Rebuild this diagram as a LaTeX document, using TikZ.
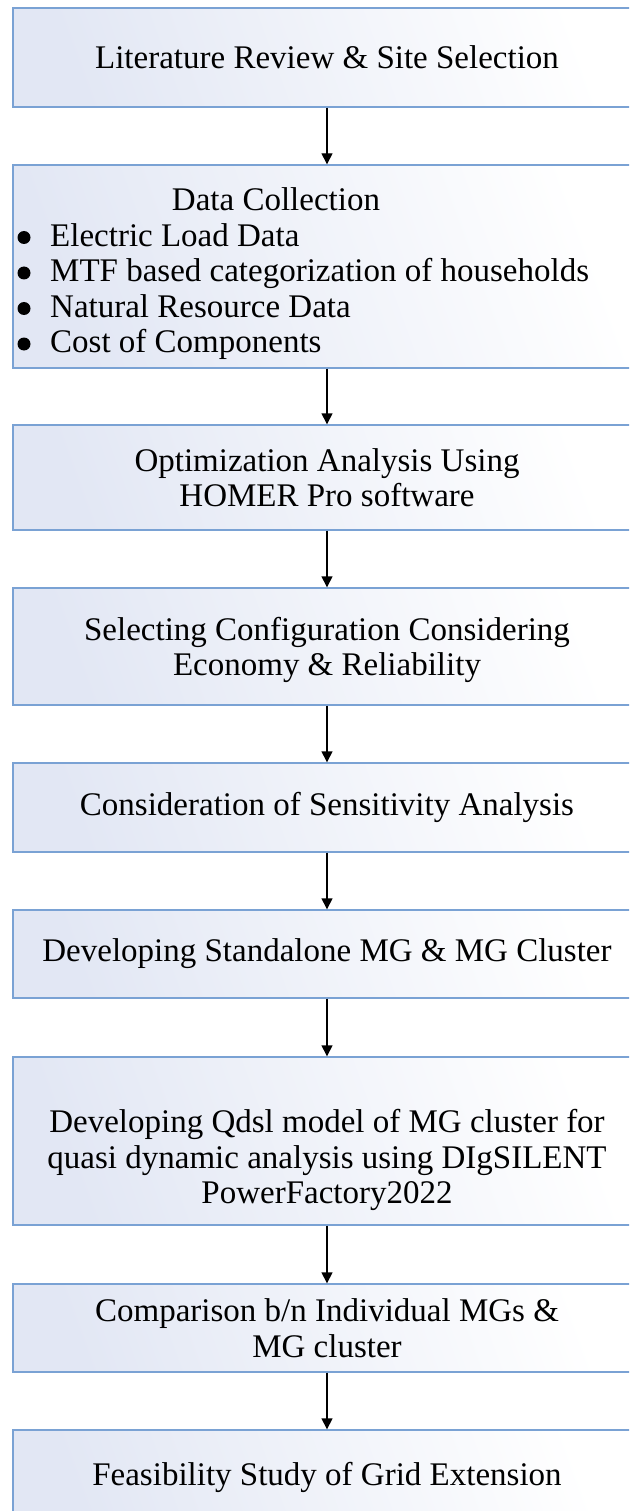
\documentclass[tikz,border=0pt]{standalone}
\usepackage{fontspec}
\setmainfont{Liberation Serif}
\usetikzlibrary{arrows.meta}
\definecolor{boxline}{RGB}{122,162,212}
\definecolor{boxfill}{RGB}{226,231,244}
\newcommand{\bulspace}{\hspace*{34pt}}
\begin{document}
\begin{tikzpicture}[x=1pt,y=-1pt,
  flowbox/.style={draw=boxline, line width=1.4pt, left color=boxfill, right color=white, shading angle=110,
    minimum width=628pt, inner sep=0pt, align=center, font=\fontsize{33}{35.5}\selectfont},
  txt/.style={inner sep=0pt, font=\fontsize{33}{35.5}\selectfont},
  bul/.style={fill=black},
  arr/.style={line width=1.4pt, -{Triangle[length=11pt,width=11pt]}}]
\useasboundingbox (0,0) rectangle (629,1511);
\clip (0,0) rectangle (629,1511);
\fill[white] (0,0) rectangle (629,1511);
\node[flowbox, minimum height=99pt] (b1) at (327,57.5) {Literature Review \& Site Selection};
\node[flowbox, minimum height=203pt] (b2) at (327,266.5) {};
\node[txt, anchor=base] (b2title) at (276,211) {Data Collection};
\node[txt, anchor=base west] (b2list) at (16,246.5) {%
  \begin{tabular}[t]{@{}l@{}}
  \bulspace Electric Load Data\\
  \bulspace MTF based categorization of households\\
  \bulspace Natural Resource Data\\
  \bulspace Cost of Components
  \end{tabular}};
\foreach \yy in {237.5,273,308.5,344} \fill[bul] (24,\yy) circle (6.5pt);
\node[flowbox, minimum height=105pt] (b3) at (327,477.5) {Optimization Analysis Using\\HOMER Pro software};
\node[flowbox, minimum height=117pt] (b4) at (327,646.5) {};
\node[txt, align=center] (b4t) at (327,650) {Selecting Configuration Considering\\Economy \& Reliability};
\node[flowbox, minimum height=89pt] (b5) at (327,807.5) {Consideration of Sensitivity Analysis};
\node[flowbox, minimum height=88pt] (b6) at (327,954) {Developing Standalone MG \& MG Cluster};
\node[flowbox, minimum height=168pt] (b7) at (327,1141) {};
\node[txt, align=center] (b7t) at (327,1160) {Developing Qdsl model of MG cluster for\\quasi dynamic analysis using DIgSILENT\\PowerFactory2022};
\node[flowbox, minimum height=88pt] (b8) at (327,1328) {Comparison b/n Individual MGs \&\\MG cluster};
\node[flowbox, minimum height=95pt] (b9) at (327,1477.5) {Feasibility Study of Grid Extension};
\draw[arr] (b1.south) -- (b2.north);
\draw[arr] (b2.south) -- (b3.north);
\draw[arr] (b3.south) -- (b4.north);
\draw[arr] (b4.south) -- (b5.north);
\draw[arr] (b5.south) -- (b6.north);
\draw[arr] (b6.south) -- (b7.north);
\draw[arr] (b7.south) -- (b8.north);
\draw[arr] (b8.south) -- (b9.north);
\end{tikzpicture}
\end{document}
